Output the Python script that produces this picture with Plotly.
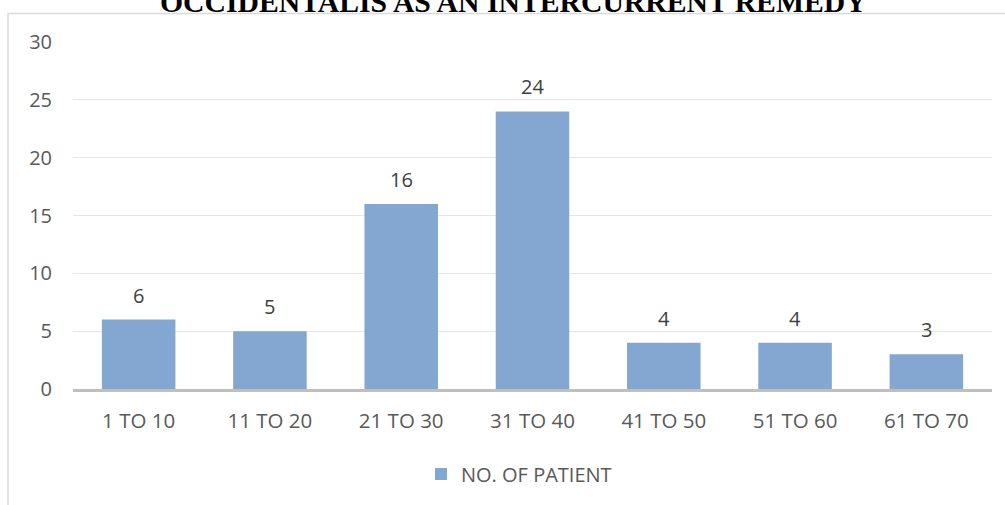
import plotly.graph_objects as go

categories = ["1 TO 10", "11 TO 20", "21 TO 30", "31 TO 40", "41 TO 50", "51 TO 60", "61 TO 70"]
patients = [6, 5, 16, 24, 4, 4, 3]
series_name = "NO. OF PATIENT"
title_text = "OCCIDENTALIS AS AN INTERCURRENT REMEDY"
y_ticks = [0, 5, 10, 15, 20, 25, 30]

W, H = 1005, 505
L, R, T, B = 73, 13, 41.5, 116
pw, ph = W - L - R, H - T - B

def px_x(x):
    return (x - L) / pw

def px_y(y):
    return (H - B - y) / ph

font_fam = "Open Sans, sans-serif"

fig = go.Figure()
fig.add_trace(go.Bar(
    x=categories, y=patients, name=series_name,
    marker=dict(color="#83A7D1", line=dict(width=0)),
    showlegend=True,
))

for c, v in zip(categories, patients):
    fig.add_annotation(x=c, y=v, xref="x", yref="y", text=str(v), showarrow=False,
                       yanchor="bottom", yshift=9,
                       font=dict(family=font_fam, size=20, color="#404040"))

fig.add_annotation(x=px_x(513), y=px_y(19), xref="paper", yref="paper",
                   text="<b>" + title_text + "</b>", showarrow=False,
                   xanchor="center", yanchor="bottom",
                   font=dict(family="Liberation Serif, Times New Roman, serif", size=29.7, color="#000000"))

fig.add_shape(type="rect", xref="paper", yref="paper",
              x0=px_x(8), x1=px_x(1040), y0=px_y(13), y1=px_y(540),
              line=dict(color="#d9d9d9", width=1.5), fillcolor="rgba(0,0,0,0)", layer="below")

fig.update_layout(
    width=W, height=H,
    margin=dict(l=L, r=R, t=T, b=B, autoexpand=False),
    paper_bgcolor="white", plot_bgcolor="white",
    bargap=0.44,
    font=dict(family=font_fam, size=20, color="#595959"),
    legend=dict(orientation="h", x=px_x(519), xanchor="center", y=px_y(474), yanchor="middle",
                font=dict(family=font_fam, size=20, color="#595959"), itemwidth=30),
    showlegend=True,
)
fig.update_xaxes(type="category", showgrid=False, showline=True, linecolor="#bfbfbf", linewidth=2.5,
                 ticks="", ticklabelstandoff=12, zeroline=False,
                 tickfont=dict(family=font_fam, size=20.5, color="#595959"))
fig.update_yaxes(range=[0, 30], tickvals=y_ticks, showgrid=True, gridcolor="#e6e6e6", gridwidth=1,
                 zeroline=False, showline=False, ticks="", ticklabelstandoff=20,
                 tickfont=dict(family=font_fam, size=20, color="#595959"))

fig.write_html("out.html", config={"displayModeBar": False},
               post_script="document.body.style.margin='0';document.body.style.overflow='hidden';")
